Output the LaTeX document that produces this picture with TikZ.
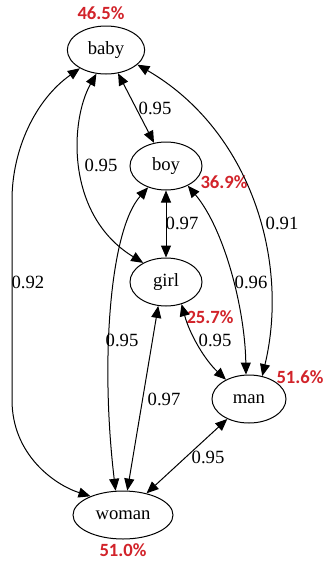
\documentclass[tikz,border=0pt]{standalone}
\usepackage{fontspec}
\setmainfont{Liberation Serif}
\newfontfamily\pctfont{Carlito}
\usetikzlibrary{shapes.geometric,arrows.meta}
\definecolor{pctred}{RGB}{210,35,42}
\begin{document}
\begin{tikzpicture}[x=0.75pt,y=-0.75pt,
  word/.style={draw, ellipse, minimum width=54pt, minimum height=36pt, inner sep=0pt,
    font=\fontsize{14}{16}\selectfont, line width=0.75pt},
  link/.style={line width=0.75pt, {Triangle[length=9pt,width=7.5pt]}-{Triangle[length=9pt,width=7.5pt]}},
  wt/.style={font=\fontsize{14}{16}\selectfont, inner sep=1pt},
  pct/.style={font=\pctfont\bfseries\fontsize{14}{16}\selectfont, text=pctred, inner sep=0pt}]
\useasboundingbox[fill=white] (0,0) rectangle (325,561);
% nodes
\node[word, minimum width=58pt] (baby) at (106,50) {baby};
\node[word] (boy) at (166,166) {boy};
\node[word] (girl) at (166,282) {girl};
\node[word, minimum width=55.5pt] (man) at (249,399) {man};
\node[word, minimum width=75pt] (woman) at (123,515) {woman};
% percentages
\node[pct] (pbaby) at (101,13) {46.5\%};
\node[pct] (pboy) at (224,182) {36.9\%};
\node[pct] (pgirl) at (210,317) {25.7\%};
\node[pct] (pman) at (300,377) {51.6\%};
\node[pct] (pwoman) at (123,550) {51.0\%};
% edges
\draw[link] (baby.215) .. controls (35,100) and (12,150) .. (12,200) -- (12,400) .. controls (12,455) and (55,485) .. (woman.150);
\draw[link] (baby.248) .. controls (70,120) and (65,215) .. (girl.140);
\draw[link] (baby) -- (boy);
\draw[link] (baby.335) .. controls (250,130) and (290,260) .. (man.60);
\draw[link] (boy) -- (girl);
\draw[link] (boy.230) .. controls (110,230) and (100,360) .. (woman.107);
\draw[link] (boy.318) .. controls (225,230) and (245,310) .. (man.97);
\draw[link] (girl.252) -- (woman.80);
\draw[link] (girl.305) .. controls (190,335) and (205,360) .. (man.140);
\draw[link] (man) -- (woman);
% edge labels
\node[wt] (l1) at (155,108) {0.95};
\node[wt] (l2) at (101,165) {0.95};
\node[wt] (l3) at (182,223) {0.97};
\node[wt] (l4) at (282,223) {0.91};
\node[wt] (l5) at (28,282) {0.92};
\node[wt] (l6) at (251,282) {0.96};
\node[wt] (l7) at (122,340) {0.95};
\node[wt] (l8) at (215,340) {0.95};
\node[wt] (l9) at (164,399) {0.97};
\node[wt] (l10) at (208,457) {0.95};
\end{tikzpicture}
\end{document}
